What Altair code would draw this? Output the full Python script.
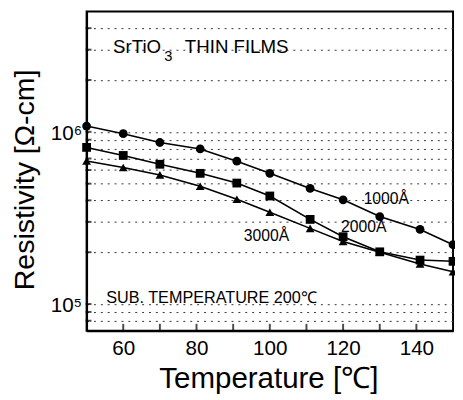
import altair as alt
import pandas as pd

temps = [50, 60, 70, 81, 91, 100, 111, 120, 130, 141, 150]
rho_1000 = [1.08e6, 9.75e5, 8.67e5, 7.95e5, 6.75e5, 5.74e5, 4.69e5, 4.03e5, 3.22e5, 2.71e5, 2.21e5]
rho_2000 = [8.12e5, 7.29e5, 6.48e5, 5.74e5, 5.04e5, 4.24e5, 3.10e5, 2.46e5, 2.01e5, 1.80e5, 1.77e5]
rho_3000 = [6.77e5, 6.21e5, 5.62e5, 4.83e5, 4.06e5, 3.41e5, 2.75e5, 2.31e5, 2.00e5, 1.71e5, 1.54e5]
series = ["1000", "2000", "3000"]
shapes = ["circle", "square", "triangle-up"]

x_ticks = [60, 70, 80, 90, 100, 110, 120, 130, 140]
y_grid = [8e4, 9e4, 1e5, 2e5, 3e5, 4e5, 5e5, 6e5, 7e5, 8e5, 9e5, 1e6, 2e6, 3e6, 4e6]

rows = []
for name, vals in zip(series, [rho_1000, rho_2000, rho_3000]):
    for t, v in zip(temps, vals):
        rows.append({"T": t, "rho": v, "film": name})
df = pd.DataFrame(rows)

W, H = 373, 325
FONT = "Liberation Sans"

xscale = alt.Scale(domain=[50, 150], nice=False, zero=False)
yscale = alt.Scale(type="log", domain=[7e4, 5e6], nice=False)

xaxis = alt.Axis(
    title="Temperature [℃]", values=x_ticks,
    labelExpr="datum.value % 20 == 0 ? datum.label : ''",
    ticks=False, grid=False, labelFontSize=21, labelPadding=7,
    labelFont=FONT, labelColor="black", titleFont=FONT, titleFontSize=30,
    titleFontWeight="normal", titleColor="black", titleX=185, titleY=58,
    titleBaseline="alphabetic", titleAlign="center",
    domainColor="black", domainWidth=2,
)
yaxis = alt.Axis(
    title="Resistivity [Ω-cm]", values=y_grid,
    labelExpr="datum.value == 100000 ? '10⁵' : datum.value == 1000000 ? '10⁶' : ''",
    ticks=False, grid=True, gridDash=[2, 5], gridColor="#333", gridWidth=1,
    labelFontSize=21, labelPadding=5, labelFont=FONT, labelColor="black",
    labelOffset=2,
    titleFont=FONT, titleFontSize=29, titleFontWeight="normal", titleColor="black",
    titleX=-54, titleY=171, titleBaseline="alphabetic", titleAlign="center",
    titleAngle=270, domainColor="black", domainWidth=2,
)

base = alt.Chart(df).encode(
    x=alt.X("T:Q", scale=xscale, axis=xaxis),
    y=alt.Y("rho:Q", scale=yscale, axis=yaxis),
    detail="film:N",
)
lines = base.mark_line(color="black", strokeWidth=1.6)
points = base.mark_point(filled=True, color="black", opacity=1, size=80).encode(
    shape=alt.Shape("film:N", scale=alt.Scale(domain=series, range=shapes), legend=None)
)

xt = alt.Chart(pd.DataFrame({"T": x_ticks})).mark_tick(
    color="black", thickness=2, size=8, orient="vertical"
).encode(x=alt.X("T:Q", scale=xscale), y=alt.value(H - 3))
yt = alt.Chart(pd.DataFrame({"rho": y_grid})).mark_tick(
    color="black", thickness=2, size=6, orient="horizontal"
).encode(y=alt.Y("rho:Q", scale=yscale), x=alt.value(2))

def label(text, px, py, size):
    return alt.Chart(pd.DataFrame({"t": [text]})).mark_text(
        align="left", baseline="alphabetic", font=FONT, fontSize=size, color="black"
    ).encode(text="t:N", x=alt.value(px), y=alt.value(py))

texts = [
    label("SrTiO", 27, 42, 19),
    label("3", 79, 50, 15),
    label("THIN FILMS", 100, 42, 19),
    label("1000Å", 282, 196, 16),
    label("2000Å", 259, 225, 16),
    label("3000Å", 160, 234, 16),
    label("SUB. TEMPERATURE 200℃", 20, 297, 16.5),
]

chart = alt.layer(lines, points, xt, yt, *texts).properties(
    width=W, height=H,
    autosize=alt.AutoSizeParams(type="none"),
    padding={"left": 80, "top": 0, "right": 2, "bottom": 66},
).configure_view(stroke="black", strokeWidth=2)

chart.save("out.html", embed_options={"renderer": "svg", "actions": False})
